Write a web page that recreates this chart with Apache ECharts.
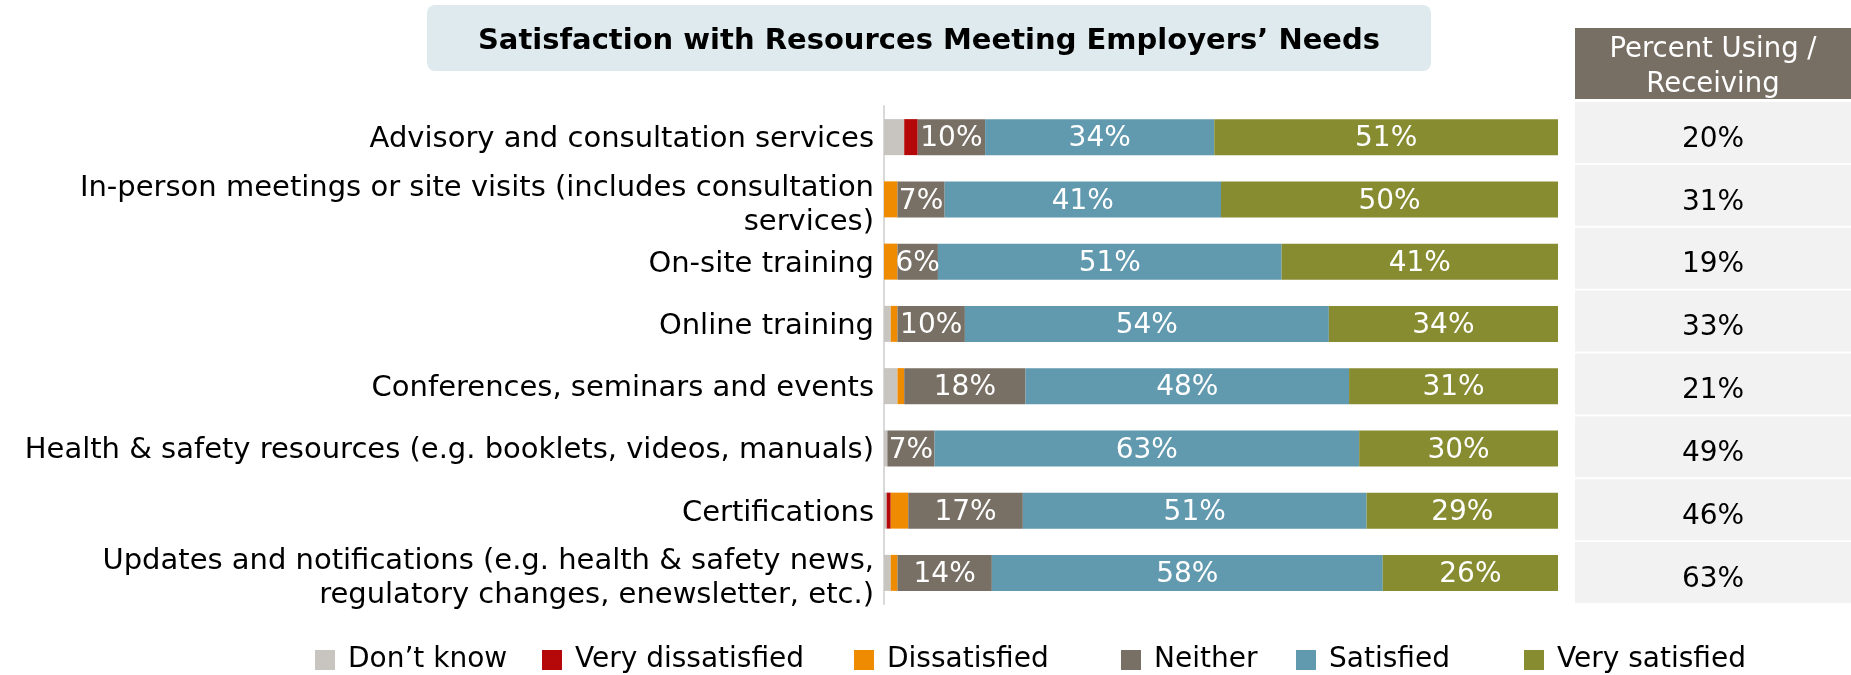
<!DOCTYPE html>
<html>
<head>
<meta charset="utf-8">
<script src="https://cdn.jsdelivr.net/npm/echarts@6/dist/echarts.min.js"></script>
<style>
  html, body { margin: 0; padding: 0; background: #fff; }
  #chart { width: 1851px; height: 675px; }
</style>
</head>
<body>
<div id="chart"></div>
<script>
var categories = [
    'Advisory and consultation services',
    'In-person meetings or site visits (includes consultation\nservices)',
    'On-site training',
    'Online training',
    'Conferences, seminars and events',
    'Health & safety resources (e.g. booklets, videos, manuals)',
    'Certifications',
    'Updates and notifications (e.g. health & safety news,\nregulatory changes, enewsletter, etc.)'
];
var dontKnow = [3, 0, 0, 1, 2, 0.5, 0.4, 1];
var veryDissatisfied = [2, 0, 0, 0, 0, 0, 0.6, 0];
var dissatisfied = [0, 2, 2, 1, 1, 0, 2.6, 1];
var neither = [10, 7, 6, 10, 18, 7, 17, 14];
var satisfied = [34, 41, 51, 54, 48, 63, 51, 58];
var verySatisfied = [51, 50, 41, 34, 31, 30, 29, 26];
var percentUsing = [20, 31, 19, 33, 21, 49, 46, 63];

var seriesNames = ['Don’t know', 'Very dissatisfied', 'Dissatisfied', 'Neither', 'Satisfied', 'Very satisfied'];
var seriesData = [dontKnow, veryDissatisfied, dissatisfied, neither, satisfied, verySatisfied];
var colors = ['#c8c4c0', '#b50808', '#ef8b00', '#786f65', '#6199af', '#878c31'];
var showLabel = [false, false, false, true, true, true];
var legendLeft = [310, 537, 849, 1116, 1291, 1519];

var font = 'DejaVu Sans, Verdana, sans-serif';
var pctLabels = percentUsing.map(function(v) { return v + '%'; });

var series = seriesNames.map(function(name, i) {
    return {
        name: name,
        type: 'bar',
        stack: 'total',
        barWidth: 36,
        xAxisIndex: 0,
        yAxisIndex: 0,
        itemStyle: { color: colors[i] },
        label: {
            show: showLabel[i],
            position: 'inside',
            offset: [0, 2],
            color: '#fff',
            fontSize: 28,
            fontFamily: font,
            formatter: '{c}%'
        },
        emphasis: { disabled: true },
        data: seriesData[i]
    };
});

// one legend per item so the uneven spacing of the original can be kept
var legends = seriesNames.map(function(name, i) {
    return {
        data: [name],
        left: legendLeft[i],
        top: 641,
        itemWidth: 20,
        itemHeight: 20,
        icon: 'rect',
        selectedMode: false,
        textStyle: { fontSize: 28, color: '#000', fontFamily: font, padding: [0, 0, 0, 8] }
    };
});

var option = {
    backgroundColor: '#fff',
    animation: false,
    color: colors,
    title: [{
        left: 427,
        top: 5,
        padding: 0,
        text: '{t|Satisfaction with Resources Meeting Employers’ Needs}',
        textStyle: {
            rich: {
                t: {
                    width: 1004,
                    height: 60,
                    padding: [6, 0, 0, 0],
                    align: 'center',
                    backgroundColor: '#dfeaef',
                    borderRadius: 8,
                    fontSize: 29,
                    fontWeight: 'bold',
                    fontFamily: font,
                    color: '#000'
                }
            }
        }
    }, {
        left: 1575,
        top: 28,
        padding: 0,
        text: '{h1|Percent Using /}\n{h2|Receiving}',
        textStyle: {
            rich: {
                h1: {
                    width: 276,
                    height: 29,
                    padding: [7, 0, 0, 0],
                    align: 'center',
                    backgroundColor: '#776e64',
                    fontSize: 27.5,
                    fontWeight: 'normal',
                    fontFamily: font,
                    color: '#fff'
                },
                h2: {
                    width: 276,
                    height: 28,
                    padding: [7, 0, 0, 0],
                    align: 'center',
                    backgroundColor: '#776e64',
                    fontSize: 27.5,
                    fontWeight: 'normal',
                    fontFamily: font,
                    color: '#fff'
                }
            }
        }
    }],
    legend: legends,
    grid: [
        { left: 884, right: 293, top: 106, height: 498 },
        { left: 1575, right: 0, top: 101, height: 503 },
        { left: 1575, right: 0, top: 108, height: 503 }
    ],
    xAxis: [
        { gridIndex: 0, type: 'value', min: 0, max: 100, show: false },
        { gridIndex: 1, type: 'value', min: 0, max: 100, show: false },
        { gridIndex: 2, type: 'value', min: 0, max: 100, show: false }
    ],
    yAxis: [{
        gridIndex: 0,
        type: 'category',
        inverse: true,
        data: categories,
        axisLine: { show: true, lineStyle: { color: '#d9d9d9', width: 2 } },
        axisTick: { show: false },
        axisLabel: {
            margin: 10,
            formatter: function(v) {
                var lines = v.split('\n');
                var st = lines.length > 1 ? 'b' : 'a';
                return lines.map(function(s) { return '{' + st + '|' + s + '}'; }).join('\n');
            },
            rich: {
                a: {
                    color: '#000',
                    fontSize: 29,
                    height: 29,
                    padding: [5, 0, 0, 0],
                    fontFamily: font
                },
                b: {
                    color: '#000',
                    fontSize: 29,
                    lineHeight: 34,
                    padding: [12, 0, 0, 0],
                    fontFamily: font
                }
            }
        }
    }, {
        // table cells
        gridIndex: 1,
        type: 'category',
        inverse: true,
        data: pctLabels,
        axisLine: { show: false },
        axisTick: { show: false },
        axisLabel: {
            margin: -138,
            align: 'center',
            verticalAlign: 'middle',
            width: 276,
            height: 61,
            lineHeight: 61,
            backgroundColor: '#f2f2f2',
            color: 'rgba(0,0,0,0)',
            fontSize: 28,
            fontFamily: font
        }
    }, {
        // table values
        gridIndex: 2,
        type: 'category',
        inverse: true,
        data: pctLabels,
        axisLine: { show: false },
        axisTick: { show: false },
        axisLabel: {
            margin: -138,
            align: 'center',
            color: '#000',
            fontSize: 28,
            fontFamily: font
        }
    }],
    series: series
};

var myChart = echarts.init(document.getElementById('chart'));
myChart.setOption(option);
</script>
</body>
</html>
